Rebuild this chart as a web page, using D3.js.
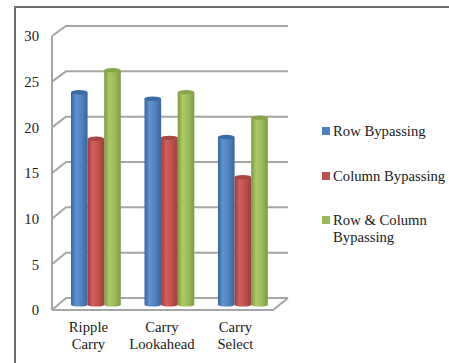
<!DOCTYPE html>
<html><head><meta charset="utf-8">
<script src="https://cdn.jsdelivr.net/npm/d3@7/dist/d3.min.js"></script>
<style>html,body{margin:0;padding:0;background:#fff}svg{display:block}text{font-family:"Liberation Serif",serif;fill:#1a1a1a}</style>
</head><body><div id="c"></div>
<script>
const categories=[["Ripple","Carry"],["Carry","Lookahead"],["Carry","Select"]];
const seriesNames=[["Row Bypassing"],["Column Bypassing"],["Row & Column","Bypassing"]];
const rowBypassing=[23.3,22.6,18.4];
const columnBypassing=[18.2,18.3,14];
const rowColumnBypassing=[25.7,23.3,20.5];
const yTicks=[0,5,10,15,20,25,30];
const colors=["#4f81bd","#c0504d","#9bbb59"];
const dark=["#38659c","#9c3d3a","#7c9a42"];
const light=["#5f93d2","#d25f5c","#abcb65"];
const caps=["#386ca8","#a84643","#86a648"];
const series=[rowBypassing,columnBypassing,rowColumnBypassing];

const W=449,H=363;
const svg=d3.select("#c").append("svg").attr("width",W).attr("height",H);
const defs=svg.append("defs");
colors.forEach((c,i)=>{
  const g=defs.append("linearGradient").attr("id","g"+i);
  g.append("stop").attr("offset","0").attr("stop-color",dark[i]);
  g.append("stop").attr("offset","0.3").attr("stop-color",light[i]);
  g.append("stop").attr("offset","0.65").attr("stop-color",c);
  g.append("stop").attr("offset","1").attr("stop-color",dark[i]);
});
svg.append("rect").attr("x",15).attr("y",7).attr("width",W-15+5).attr("height",H).attr("fill","#fff").attr("stroke","#6e6e6e").attr("stroke-width",2);

const wall="#a6a6a6";
const yFront=d3.scaleLinear().domain([0,30]).range([310,36]);
const yBack=d3.scaleLinear().domain([0,30]).range([298,26]);
const yBar=d3.scaleLinear().domain([0,30]).range([305,31]);
const xFront=52,xBack=66,xEnd=288,xFrontEnd=273;
const grid=svg.append("g").attr("fill","none").attr("stroke",wall).attr("stroke-width",2);
yTicks.forEach(t=>{
  grid.append("path").attr("d",`M${xFront},${yFront(t)}L${xBack},${yBack(t)}L${xEnd},${yBack(t)}`);
});
grid.append("path").attr("d",`M${xFront},${yFront(0)}L${xFront},${yFront(30)}`);
grid.append("path").attr("d",`M${xFront},${yFront(0)}L${xFrontEnd},${yFront(0)}L${xEnd},${yBack(0)}`);

svg.append("g").selectAll("text").data(yTicks).join("text")
  .attr("x",39).attr("y",d=>yFront(d)+2).attr("text-anchor","end").attr("dominant-baseline","middle")
  .attr("font-size",14.7).text(d=>d);

const x0=d3.scaleBand().domain(d3.range(categories.length)).range([71,71+73.5*3]).paddingInner(0).paddingOuter(0).align(0);
const bw=16.6;
const marks=svg.append("g");
categories.forEach((cat,c)=>{
  [0,2,1].forEach(s=>{
    const x=x0(c)+s*bw, v=series[s][c], top=yBar(v), bot=yBar(0), rx=bw/2+0.4, ry=2.2;
    const g=marks.append("g");
    g.append("path")
      .attr("d",`M${x},${top}L${x},${bot}A${rx},${ry} 0 0 0 ${x+bw},${bot}L${x+bw},${top}Z`)
      .attr("fill",`url(#g${s})`);
    g.append("ellipse").attr("cx",x+bw/2).attr("cy",top).attr("rx",bw/2).attr("ry",ry).attr("fill",caps[s]);
  });
});
const labels=svg.append("g");
categories.forEach((cat,c)=>{
  const cx=x0(c)+bw*1.5-7.5;
  cat.forEach((l,i)=>labels.append("text").attr("x",cx).attr("y",332+i*17).attr("text-anchor","middle").attr("font-size",14.7).text(l));
});
const legY=[131,176,220];
const legBase=[136,181,225];
const leg=svg.append("g");
seriesNames.forEach((n,i)=>{
  leg.append("rect").attr("x",322).attr("y",legY[i]-4).attr("width",8).attr("height",8).attr("fill",colors[i]);
  n.forEach((l,j)=>leg.append("text").attr("x",333).attr("y",legBase[i]+j*17).attr("font-size",14.7).text(l));
});
</script></body></html>
